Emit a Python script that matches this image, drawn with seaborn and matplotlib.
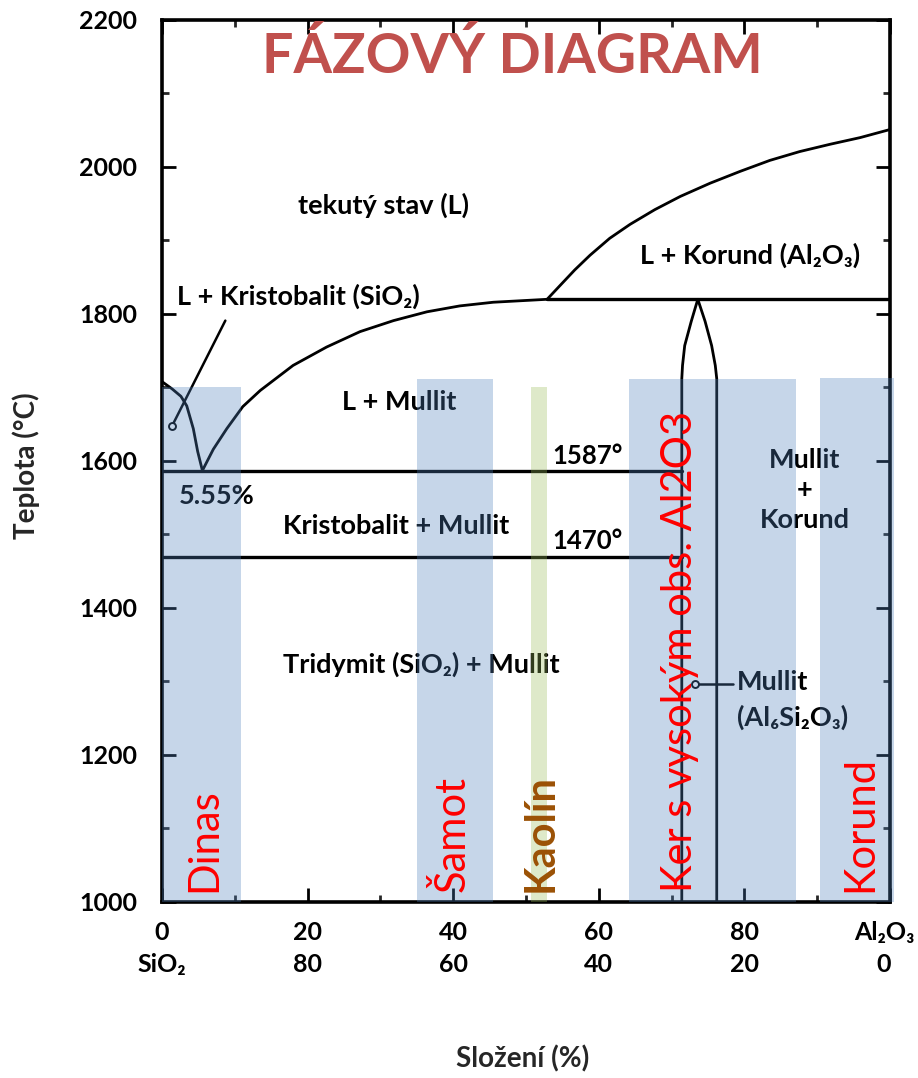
import matplotlib
matplotlib.use("Agg")
import matplotlib.pyplot as plt
import matplotlib.transforms as mtransforms
import seaborn as sns
import pandas as pd

# ---------------- data ----------------
# SiO2 liquidus (L + Kristobalit boundary)
sio2_liq_x = [0.0, 1.4, 2.6, 3.4, 4.3, 4.9, 5.55]
sio2_liq_t = [1708, 1698, 1688, 1675, 1644, 1613, 1587]
# Mullite liquidus
mull_liq_x = [5.55, 7.05, 8.9, 11.1, 13.5, 18.0, 22.6, 27.2, 31.8, 36.4, 40.9, 45.5, 52.9]
mull_liq_t = [1587, 1616, 1644, 1674, 1696, 1730, 1755, 1776, 1791, 1803, 1811, 1816, 1820]
# Corundum liquidus
kor_liq_x = [52.9, 54.7, 56.7, 58.8, 61.5, 64.3, 67.7, 71.2, 75.3, 79.4, 83.5, 87.6, 91.8, 95.9, 100.0]
kor_liq_t = [1820, 1839, 1860, 1880, 1903, 1922, 1942, 1960, 1978, 1994, 2009, 2021, 2031, 2040, 2051]
# Peritectic horizontal
perit_x = [52.9, 100.0]
perit_t = [1820, 1820]
# Mullite solid-solution field (left and right boundary)
mull_left_x = [73.6, 72.7, 71.8, 71.5, 71.4, 71.4]
mull_left_t = [1820, 1790, 1757, 1730, 1712, 1000]
mull_right_x = [73.6, 74.6, 75.5, 76.0, 76.2, 76.2]
mull_right_t = [1820, 1790, 1757, 1730, 1712, 1000]
# Isotherms
eut_x = [0.0, 71.4]
eut_t = [1587, 1587]
trid_x = [0.0, 71.4]
trid_t = [1470, 1470]

# Highlighted material bands
band_names = ["Dinas", "Šamot", "Kaolín", "Ker s vysokým obs. Al2O3", "Korund"]
band_start = [0.0, 35.0, 50.7, 64.1, 90.4]
band_end = [10.9, 45.5, 52.9, 87.1, 100.5]
band_top = [1701, 1711, 1701, 1711, 1713]
band_colors = ["#4F81BD", "#4F81BD", "#9BBB59", "#4F81BD", "#4F81BD"]
band_text_colors = ["#FF0000", "#FF0000", "#9B5105", "#FF0000", "#FF0000"]
band_text_x = [5.8, 39.8, 52.0, 71.1, 95.9]
band_text_weight = ["normal", "normal", "bold", "normal", "normal"]

xtick_vals = [0, 20, 40, 60, 80, 100]
xtick_labels = ["0\nSiO₂", "20\n80", "40\n60", "60\n40", "80\n20", "Al₂O₃\n0"]
ytick_vals = [1000, 1200, 1400, 1600, 1800, 2000, 2200]

# ---------------- style ----------------
sns.set_theme(style="ticks")
plt.rcParams["font.family"] = ["Lato", "DejaVu Sans"]
plt.rcParams["font.weight"] = "bold"

fig = plt.figure(figsize=(9.18, 10.78), dpi=100)
ax = fig.add_axes([162 / 918, 1 - 902 / 1078, 728 / 918, 882 / 1078])


def curve(x, t, lw=2.0):
    df = pd.DataFrame({"x": x, "t": t})
    sns.lineplot(data=df, x="x", y="t", sort=False, estimator=None,
                 color="black", lw=lw, ax=ax, zorder=2)


curve(sio2_liq_x, sio2_liq_t)
curve(mull_liq_x, mull_liq_t)
curve(kor_liq_x, kor_liq_t)
curve(perit_x, perit_t, 2.4)
curve(mull_left_x, mull_left_t)
curve(mull_right_x, mull_right_t)
curve(eut_x, eut_t, 2.4)
curve(trid_x, trid_t, 2.4)

# leader lines with small circles
ax.plot([8.7, 1.4], [1791, 1648], color="black", lw=1.8, zorder=2)
ax.plot([1.4], [1648], marker="o", ms=5, mfc="white", mec="black", mew=1.4, zorder=2)
ax.plot([73.2, 78.4], [1297, 1297], color="black", lw=1.8, zorder=2)
ax.plot([73.2], [1297], marker="o", ms=5, mfc="white", mec="black", mew=1.4, zorder=2)

# region labels
lab = dict(color="black", fontsize=19.5, fontweight="bold", zorder=3)
num = dict(color="black", fontsize=18.5, fontweight="bold", zorder=3)
ax.text(30.4, 1948, "tekutý stav (L)", ha="center", va="center", **lab)
ax.text(18.8, 1824, "L + Kristobalit (SiO₂)", ha="center", va="center", **lab)
ax.text(80.8, 1880, "L + Korund (Al₂O₃)", ha="center", va="center", **lab)
ax.text(32.6, 1680, "L + Mullit", ha="center", va="center", **lab)
ax.text(53.6, 1607, "1587°", ha="left", va="center", **num)
ax.text(53.6, 1491, "1470°", ha="left", va="center", **num)
ax.text(7.5, 1552, "5.55%", ha="center", va="center", **lab)
ax.text(32.1, 1511, "Kristobalit + Mullit", ha="center", va="center", **lab)
ax.text(35.6, 1323, "Tridymit (SiO₂) + Mullit", ha="center", va="center", **lab)
ax.text(88.3, 1560, "Mullit\n+\nKorund", ha="center", va="center",
        linespacing=1.3, **lab)
ax.text(79.0, 1299, "Mullit", ha="left", va="center", **lab)
ax.text(79.0, 1251, "(Al₆Si₂O₃)", ha="left", va="center", **lab)

# title
ax.text(48.1, 2151, "FÁZOVÝ DIAGRAM", ha="center", va="center",
        color="#C0504D", fontsize=40, fontweight="bold", zorder=5)

# bands
heights = [t - 1000 for t in band_top]
widths = [e - s for s, e in zip(band_start, band_end)]
ax.bar(band_start, heights, width=widths, bottom=1000, align="edge",
       color=band_colors, alpha=0.32, linewidth=0, zorder=4, clip_on=False)

for name, xc, col, w in zip(band_names, band_text_x, band_text_colors, band_text_weight):
    ax.text(xc, 1014, name, rotation=90, ha="center", va="bottom",
            color=col, fontsize=30, fontweight=w, zorder=6)

# axes
ax.set_xlim(0, 100)
ax.set_ylim(1000, 2200)
ax.set_xticks(xtick_vals)
ax.set_xticklabels(xtick_labels)
ax.set_xticks(range(0, 101, 10), minor=True)
ax.set_yticks(ytick_vals)
ax.set_yticklabels([str(v) for v in ytick_vals])
ax.set_yticks(range(1000, 2201, 100), minor=True)
ax.tick_params(which="major", direction="in", top=True, right=True,
               length=10, width=2, labelsize=18, pad=14, colors="black")
ax.tick_params(which="minor", direction="in", top=True, right=True,
               length=5, width=2)
ax.tick_params(axis="y", which="major", pad=18)
xl = ax.get_xticklabels()
for t in xl:
    t.set_linespacing(1.45)
    t.set_fontweight("bold")
# nudge last label slightly left so it stays inside the figure
xl[-1].set_transform(xl[-1].get_transform() +
                     mtransforms.ScaledTranslation(-6 / 100, 0, fig.dpi_scale_trans))
for t in ax.get_yticklabels():
    t.set_fontweight("bold")
for s in ax.spines.values():
    s.set_linewidth(2.6)
    s.set_color("black")

ax.set_xlabel("Složení (%)", fontsize=20, fontweight="bold")
ax.set_ylabel("Teplota (°C)", fontsize=20, fontweight="bold")
ax.xaxis.set_label_coords(0.496, -0.163)
ax.yaxis.set_label_coords(-0.168, 0.495)

fig.savefig("out.png", dpi=100)
